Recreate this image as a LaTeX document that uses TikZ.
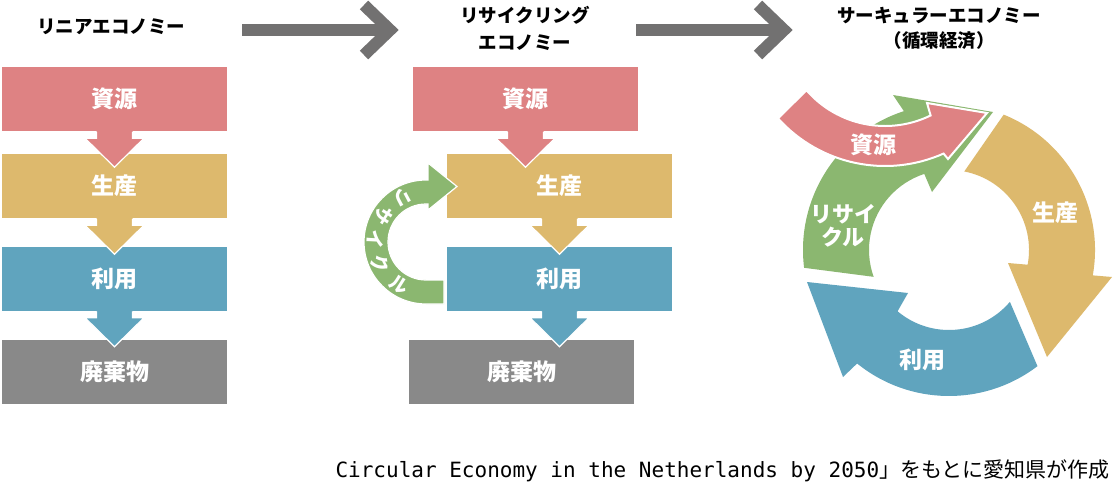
\documentclass[tikz,border=0pt]{standalone}
\usepackage{fontspec}
\usetikzlibrary{calc}
\newfontfamily\jp{Noto Sans CJK JP}
\newfontfamily\monof{DejaVu Sans Mono}
\definecolor{rose}{HTML}{DE8283}
\definecolor{yel}{HTML}{DDB96D}
\definecolor{blu}{HTML}{60A4BE}
\definecolor{gry}{HTML}{898989}
\definecolor{grn}{HTML}{8BB770}
\definecolor{arrgray}{HTML}{727171}
\tikzset{
  box/.style={draw=none, minimum width=225pt, minimum height=64pt, inner sep=0pt,
    text=white, font=\jp\bfseries\fontsize{23}{26}\selectfont},
  lab/.style={text=white, inner sep=0pt, font=\jp\bfseries\fontsize{23}{26}\selectfont},
  ttl/.style={text=black, inner sep=0pt, align=center},
  arcchar/.style={text=white, inner sep=0pt, font=\jp\bfseries\fontsize{19}{21}\selectfont},
  bigarrow/.style={draw=arrgray, line width=12pt},
  outl/.style={draw=white, line width=1.2pt}
}
\newcommand\dnarrow[2]{%
  \fill[#2] ($(#1.south)+(-18,0)$) -- ++(0,7) -- ++(-11.5,0) -- ($(#1.south)+(0,36)$)
    -- ($(#1.south)+(29.5,7)$) -- ++(-11.5,0) -- ($(#1.south)+(18,0)$) -- cycle;
  \draw[outl] ($(#1.south)+(-18,0.6)$) -- ++(0,6.4) -- ++(-11.5,0) -- ($(#1.south)+(0,36)$)
    -- ($(#1.south)+(29.5,7)$) -- ++(-11.5,0) -- ($(#1.south)+(18,0.6)$);
}
\begin{document}
\begin{tikzpicture}[x=1pt,y=-1pt]
\useasboundingbox (0,0) rectangle (1116,482);
\fill[white] (0,0) rectangle (1116,482);

% titles
\node[ttl, font=\jp\bfseries\fontsize{18.5}{27}\selectfont] (t1) at (111,27) {リニアエコノミー};
\node[ttl, font=\jp\bfseries\fontsize{18.5}{27}\selectfont] (t2) at (525,28.5) {リサイクリング\\エコノミー};
\node[ttl, font=\jp\bfseries\fontsize{18.5}{25}\selectfont] (t3) at (939,28.5) {サーキュラーエコノミー\\（循環経済）};

% big arrows
\coordinate (a1s) at (242,30); \coordinate (a1e) at (386,30);
\coordinate (a1t) at (390,30);
\draw[bigarrow] (a1s) -- (a1e);
\draw[bigarrow, miter limit=10] ($(a1t)+(-26,-25)$) -- (a1t) -- ($(a1t)+(-26,25)$);
\coordinate (a2s) at (636,30); \coordinate (a2e) at (780,30);
\coordinate (a2t) at (784,30);
\draw[bigarrow] (a2s) -- (a2e);
\draw[bigarrow, miter limit=10] ($(a2t)+(-26,-25)$) -- (a2t) -- ($(a2t)+(-26,25)$);

% linear economy
\node[box, fill=rose] (L1) at (114.5,99) {資源};
\node[box, fill=yel] (L2) at (114.5,186) {生産};
\node[box, fill=blu] (L3) at (114.5,278.5) {利用};
\node[box, fill=gry] (L4) at (114.5,371.5) {廃棄物};
\dnarrow{L1}{rose}
\dnarrow{L2}{yel}
\dnarrow{L3}{blu}

% recycling economy
\node[box, fill=rose] (M1) at (525.5,99) {資源};
\node[box, fill=yel] (M2) at (559.5,186) {生産};
\node[box, fill=blu] (M3) at (559.5,278.5) {利用};
\node[box, fill=gry] (M4) at (521.5,371.5) {廃棄物};
\dnarrow{M1}{rose}
\dnarrow{M2}{yel}
\dnarrow{M3}{blu}

\coordinate (G) at (426,242);
\filldraw[fill=grn, outl] (444,304) -- (426,304) arc[start angle=90, end angle=270, radius=62]
  -- (428,180) -- (428,163) -- (457,186.5) -- (428,210) -- (428,204) -- (426,204)
  arc[start angle=270, end angle=90, radius=38] -- (444,280) -- cycle;
\foreach \ch/\a in {リ/242, サ/212, イ/183, ク/154, ル/122}{
  \pgfmathsetmacro\rot{90-\a}
  \node[arcchar, rotate=\rot] at ($(G)+(\a:50.5)$) {\ch};
}

% circular economy
\coordinate (C) at (949,250);
\coordinate (R) at (885,22);
\fill[grn] ($(C)+(173:146)$) arc[start angle=173, end angle=252, radius=146]
  -- (893,95) -- (993,112) -- (932,192) -- ($(C)+(252:80)$)
  arc[start angle=252, end angle=160.4, radius=80] -- cycle;
\fill[yel] ($(C)+(-68:146)$) arc[start angle=-68, end angle=10, radius=146]
  -- (1112,277) -- (1047,357) -- (1008,263) -- ($(C)+(10.6:80)$)
  arc[start angle=10.6, end angle=-79, radius=80] -- cycle;
\fill[blu] ($(C)+(52.7:146)$) arc[start angle=52.7, end angle=129, radius=146]
  -- (843,377) -- (807,282) -- (908,293) -- ($(C)+(130:80)$)
  arc[start angle=130, end angle=40.4, radius=80] -- cycle;
\filldraw[fill=rose, draw=white, line width=2pt] ($(R)+(139:104)$) arc[start angle=139, end angle=64, radius=104]
  -- (927,103) -- (987,113) -- (948,159) -- ($(R)+(66:144)$)
  arc[start angle=66, end angle=138, radius=144] -- cycle;

\node[lab] (c1) at (873,145) {資源};
\node[lab] (c2) at (1055,213) {生産};
\node[lab] (c3) at (922,360) {利用};
\node[lab, align=center, font=\jp\bfseries\fontsize{22}{23}\selectfont] (c4) at (843,226) {リサイ\\クル};

% caption
\node[anchor=base east, inner sep=0pt, text=black] (cap) at (1110,477)
  {{\monof\fontsize{21}{25}\selectfont Circular Economy in the Netherlands by 2050}{\jp\fontsize{21}{25}\selectfont 」をもとに愛知県が作成}};
\end{tikzpicture}
\end{document}
